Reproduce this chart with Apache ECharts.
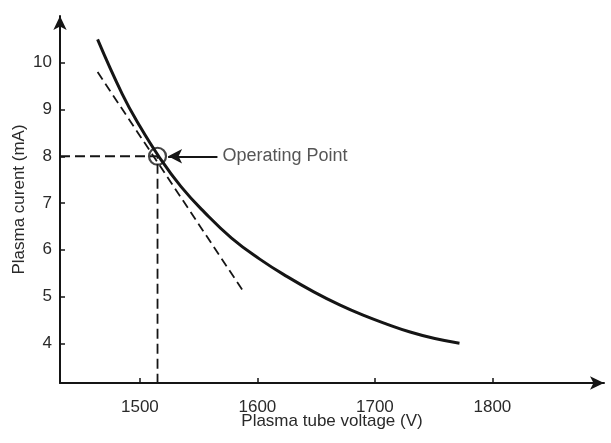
<!DOCTYPE html>
<html>
<head>
<meta charset="utf-8">
<script src="https://cdn.jsdelivr.net/npm/echarts@6/dist/echarts.min.js"></script>
<style>
	html,body{margin:0;padding:0;background:#fff;}
	#chart{width:611px;height:443px;}
</style>
</head>
<body>
<div id="chart"></div>
<script>
// values
var curveV = [1464, 1485, 1500, 1516, 1535, 1555, 1578, 1602, 1625, 1648, 1670, 1690, 1710, 1730, 1751, 1772];
var curveI = [10.5, 9.33, 8.64, 8.0, 7.35, 6.8, 6.25, 5.8, 5.43, 5.1, 4.82, 4.6, 4.41, 4.24, 4.1, 4.0];
var tangentV = [1464, 1587];
var tangentI = [9.8, 5.15];
var guideV = [1432, 1515, 1515];
var guideI = [8, 8, 3.15];
var opPoint = [1515, 8];
var arrowFrom = [1566, 8];
var arrowTo = [1524, 8];
var xTicks = [1500, 1600, 1700, 1800];
var yTicks = [4, 5, 6, 7, 8, 9, 10];

function pairs(xs, ys){
	var out = [];
	for(var i = 0; i < xs.length; i++){
		out.push([xs[i], ys[i]]);
	}
	return out;
}

var font = 'Liberation Sans, Arial, sans-serif';
var ink = '#151515';
var textColor = '#2a2a2a';

var myChart = echarts.init(document.getElementById('chart'));
myChart.setOption({
	animation: false,
	backgroundColor: '#fff',
	grid: {left: 60, right: 7, top: 16, bottom: 60},
	xAxis: {
		type: 'value',
		min: 1432,
		max: 1895,
		name: 'Plasma tube voltage (V)',
		nameLocation: 'middle',
		nameGap: 30,
		nameMoveOverlap: false,
		nameTextStyle: {color: textColor, fontSize: 17, fontFamily: font},
		axisLine: {lineStyle: {color: ink, width: 2}, symbol: ['none', 'arrow'], symbolSize: [10, 14]},
		axisTick: {inside: true, length: 5, lineStyle: {color: ink, width: 1.5}, customValues: xTicks},
		axisLabel: {
			color: textColor, fontSize: 17, fontFamily: font, margin: 16, customValues: xTicks,
			formatter: function(v){ return String(v); }
		},
		splitLine: {show: false}
	},
	yAxis: {
		type: 'value',
		min: 3.15,
		max: 11.0,
		name: 'Plasma curent (mA)',
		nameLocation: 'middle',
		nameGap: 32,
		nameMoveOverlap: false,
		nameRotate: 90,
		nameTextStyle: {color: textColor, fontSize: 17, fontFamily: font},
		axisLine: {lineStyle: {color: ink, width: 2}, symbol: ['none', 'arrow'], symbolSize: [10, 14]},
		axisTick: {inside: true, length: 5, lineStyle: {color: ink, width: 1.5}, customValues: yTicks},
		axisLabel: {
			color: textColor, fontSize: 17, fontFamily: font, margin: 8, customValues: yTicks,
			formatter: function(v){ return String(v); }
		},
		splitLine: {show: false}
	},
	series: [
		{
			// characteristic curve
			type: 'line',
			data: pairs(curveV, curveI),
			smooth: 0.45,
			showSymbol: false,
			lineStyle: {color: ink, width: 3}
		},
		{
			// tangent at operating point
			type: 'line',
			data: pairs(tangentV, tangentI),
			showSymbol: false,
			lineStyle: {color: ink, width: 1.8, type: [9, 5]}
		},
		{
			// guides to the axes + arrow
			type: 'line',
			data: pairs(guideV, guideI),
			showSymbol: false,
			lineStyle: {color: ink, width: 1.8, type: [10, 5]},
			markLine: {
				silent: true,
				symbol: ['none', 'arrow'],
				symbolSize: [11, 14],
				label: {show: false},
				lineStyle: {color: ink, width: 2, type: 'solid'},
				data: [[{coord: arrowFrom}, {coord: arrowTo}]]
			}
		},
		{
			// operating point circle
			type: 'scatter',
			data: [opPoint],
			symbol: 'circle',
			symbolSize: 17,
			itemStyle: {color: 'rgba(0,0,0,0)', borderColor: ink, borderWidth: 2.2}
		},
		{
			type: 'scatter',
			data: [arrowFrom],
			symbolSize: 0,
			label: {
				show: true,
				position: 'right',
				distance: 5,
				formatter: 'Operating Point',
				color: textColor,
				fontSize: 18,
				fontFamily: font
			}
		}
	]
});
</script>
</body>
</html>
